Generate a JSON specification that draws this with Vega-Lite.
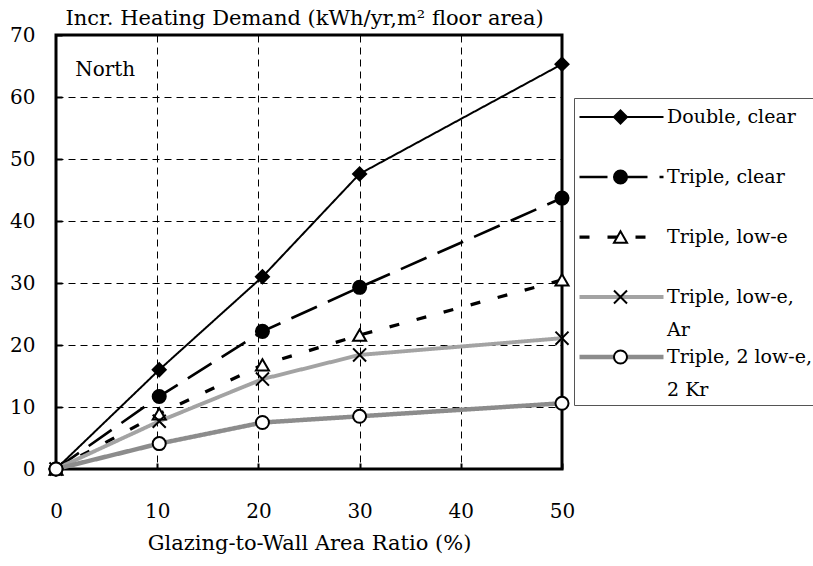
{
  "$schema": "https://vega.github.io/schema/vega-lite/v6.json",
  "width": 506,
  "height": 434,
  "autosize": {"type": "none"},
  "padding": {"left": 56, "top": 35, "right": 251, "bottom": 97},
  "background": "white",
  "config": {
    "font": "DejaVu Serif",
    "view": {"stroke": "black", "strokeWidth": 3},
    "text": {"font": "DejaVu Serif"}
  },
  "data": {
    "values": [
      {"ratio": 0, "demand": 0, "series": "Double, clear", "code": "DC"},
      {"ratio": 10.2, "demand": 16.0, "series": "Double, clear", "code": "DC"},
      {"ratio": 20.4, "demand": 31.0, "series": "Double, clear", "code": "DC"},
      {"ratio": 30, "demand": 47.6, "series": "Double, clear", "code": "DC"},
      {"ratio": 50, "demand": 65.3, "series": "Double, clear", "code": "DC"},
      {"ratio": 0, "demand": 0, "series": "Triple, clear", "code": "TC"},
      {"ratio": 10.2, "demand": 11.7, "series": "Triple, clear", "code": "TC"},
      {"ratio": 20.4, "demand": 22.2, "series": "Triple, clear", "code": "TC"},
      {"ratio": 30, "demand": 29.3, "series": "Triple, clear", "code": "TC"},
      {"ratio": 50, "demand": 43.7, "series": "Triple, clear", "code": "TC"},
      {"ratio": 0, "demand": 0, "series": "Triple, low-e", "code": "TL"},
      {"ratio": 10.2, "demand": 8.9, "series": "Triple, low-e", "code": "TL"},
      {"ratio": 20.4, "demand": 16.8, "series": "Triple, low-e", "code": "TL"},
      {"ratio": 30, "demand": 21.6, "series": "Triple, low-e", "code": "TL"},
      {"ratio": 50, "demand": 30.5, "series": "Triple, low-e", "code": "TL"},
      {"ratio": 0, "demand": 0, "series": "Triple, low-e, Ar", "code": "TLA"},
      {"ratio": 10.2, "demand": 7.7, "series": "Triple, low-e, Ar", "code": "TLA"},
      {"ratio": 20.4, "demand": 14.5, "series": "Triple, low-e, Ar", "code": "TLA"},
      {"ratio": 30, "demand": 18.4, "series": "Triple, low-e, Ar", "code": "TLA"},
      {"ratio": 50, "demand": 21.1, "series": "Triple, low-e, Ar", "code": "TLA"},
      {"ratio": 0, "demand": 0, "series": "Triple, 2 low-e, 2 Kr", "code": "T2K"},
      {"ratio": 10.2, "demand": 4.1, "series": "Triple, 2 low-e, 2 Kr", "code": "T2K"},
      {"ratio": 20.4, "demand": 7.5, "series": "Triple, 2 low-e, 2 Kr", "code": "T2K"},
      {"ratio": 30, "demand": 8.5, "series": "Triple, 2 low-e, 2 Kr", "code": "T2K"},
      {"ratio": 50, "demand": 10.6, "series": "Triple, 2 low-e, 2 Kr", "code": "T2K"}
    ]
  },
  "encoding": {
    "x": {
      "field": "ratio", "type": "quantitative",
      "scale": {"domain": [0, 50], "nice": false, "zero": true},
      "axis": {
        "values": [0, 10, 20, 30, 40, 50],
        "grid": true, "gridColor": "black", "gridDash": [7, 5], "gridWidth": 1, "gridOpacity": 1,
        "domain": false, "ticks": true, "tickSize": -6, "tickColor": "black", "tickWidth": 2,
        "labelFont": "DejaVu Serif", "labelFontSize": 20, "labelColor": "black", "labelPadding": 38,
        "labelFlush": false,
        "title": "Glazing-to-Wall Area Ratio (%)",
        "titleFont": "DejaVu Serif", "titleFontSize": 21, "titleFontWeight": "normal", "titleColor": "black",
        "titlePadding": 11
      }
    },
    "y": {
      "field": "demand", "type": "quantitative",
      "scale": {"domain": [0, 70], "nice": false},
      "axis": {
        "values": [0, 10, 20, 30, 40, 50, 60, 70],
        "grid": true, "gridColor": "black", "gridDash": [7, 5], "gridWidth": 1, "gridOpacity": 1,
        "domain": false, "ticks": true, "tickSize": -6, "tickColor": "black", "tickWidth": 2,
        "labelFont": "DejaVu Serif", "labelFontSize": 20, "labelColor": "black", "labelPadding": 27,
        "labelFlush": false,
        "title": "Incr. Heating Demand (kWh/yr,m² floor area)",
        "titleFont": "DejaVu Serif", "titleFontSize": 21, "titleFontWeight": "normal", "titleColor": "black",
        "titleAngle": 0, "titleAlign": "left", "titleBaseline": "alphabetic", "titleX": 9, "titleY": -11
      }
    }
  },
  "layer": [
    {
      "data": {"values": [{"ratio": 1.9, "demand": 64.4, "label": "North"}]},
      "mark": {"type": "text", "align": "left", "baseline": "middle", "fontSize": 20, "font": "DejaVu Serif", "color": "black"},
      "encoding": {"text": {"field": "label"}}
    },
    {
      "mark": {"type": "line", "strokeCap": "butt"},
      "encoding": {
        "color": {
          "field": "series", "type": "nominal",
          "scale": {"domain": ["Double, clear", "Triple, clear", "Triple, low-e", "Triple, low-e, Ar", "Triple, 2 low-e, 2 Kr"], "range": ["#000000", "#000000", "#000000", "#a3a3a3", "#8c8c8c"]},
          "legend": {
            "orient": "none", "legendX": 518, "legendY": 63, "title": null,
            "symbolType": "stroke", "symbolSize": 7056,
            "strokeColor": "#555555", "fillColor": "white", "padding": 5,
            "labelFont": "DejaVu Serif", "labelFontSize": 19, "labelColor": "black", "labelLimit": 0,
            "labelOffset": 1, "labelBaseline": "middle",
            "labelExpr": "datum.label == 'Triple, low-e, Ar' ? ['Triple, low-e,', 'Ar'] : datum.label == 'Triple, 2 low-e, 2 Kr' ? ['Triple, 2 low-e,', '2 Kr'] : [datum.label, ' ']",
            "clipHeight": 28, "rowPadding": 3, "symbolOffset": -2, "zindex": 0,
            "encode": {"labels": {"update": {"lineHeight": {"value": 33}}}}
          }
        },
        "strokeDash": {
          "field": "series", "type": "nominal",
          "scale": {"domain": ["Double, clear", "Triple, clear", "Triple, low-e", "Triple, low-e, Ar", "Triple, 2 low-e, 2 Kr"], "range": [[1, 0], [28, 12], [10, 18], [1, 0], [1, 0]]}
        },
        "strokeWidth": {
          "field": "series", "type": "ordinal",
          "scale": {"domain": ["Double, clear", "Triple, clear", "Triple, low-e", "Triple, low-e, Ar", "Triple, 2 low-e, 2 Kr"], "range": [2, 4.5, 4.5, 4.5, 5.5]}
        }
      }
    },
    {
      "mark": {"type": "point", "filled": true, "size": 170, "stroke": "black", "strokeWidth": 2, "opacity": 1},
      "encoding": {
        "shape": {
          "field": "code", "type": "nominal",
          "scale": {"domain": ["DC", "TC", "TL", "TLA", "T2K"], "range": ["diamond", "circle", "triangle-up", "M-1,-1L1,1M-1,1L1,-1", "circle"]},
          "legend": {
            "orient": "none", "legendX": 518, "legendY": 48.5, "title": null,
            "symbolSize": 170, "symbolStrokeColor": "black", "symbolStrokeWidth": 2, "symbolOpacity": 1,
            "padding": 5, "strokeColor": null, "fillColor": null,
            "labelFontSize": 19, "labelLimit": 0, "labelExpr": "''",
            "clipHeight": 57, "rowPadding": 3, "symbolOffset": 32, "zindex": 1,
            "encode": {"symbols": {"update": {"stroke": {"value": "black"}, "strokeWidth": {"value": 2}}}}
          }
        },
        "fill": {
          "field": "code", "type": "nominal",
          "scale": {"domain": ["DC", "TC", "TL", "TLA", "T2K"], "range": ["black", "black", "white", "black", "white"]},
          "legend": {
            "orient": "none", "legendX": 518, "legendY": 48.5, "title": null,
            "symbolSize": 170, "symbolStrokeColor": "black", "symbolStrokeWidth": 2, "symbolOpacity": 1,
            "padding": 5, "strokeColor": null, "fillColor": null,
            "labelFontSize": 19, "labelLimit": 0, "labelExpr": "''",
            "clipHeight": 57, "rowPadding": 3, "symbolOffset": 32, "zindex": 1,
            "encode": {"symbols": {"update": {"stroke": {"value": "black"}, "strokeWidth": {"value": 2}}}}
          }
        }
      }
    }
  ]
}
